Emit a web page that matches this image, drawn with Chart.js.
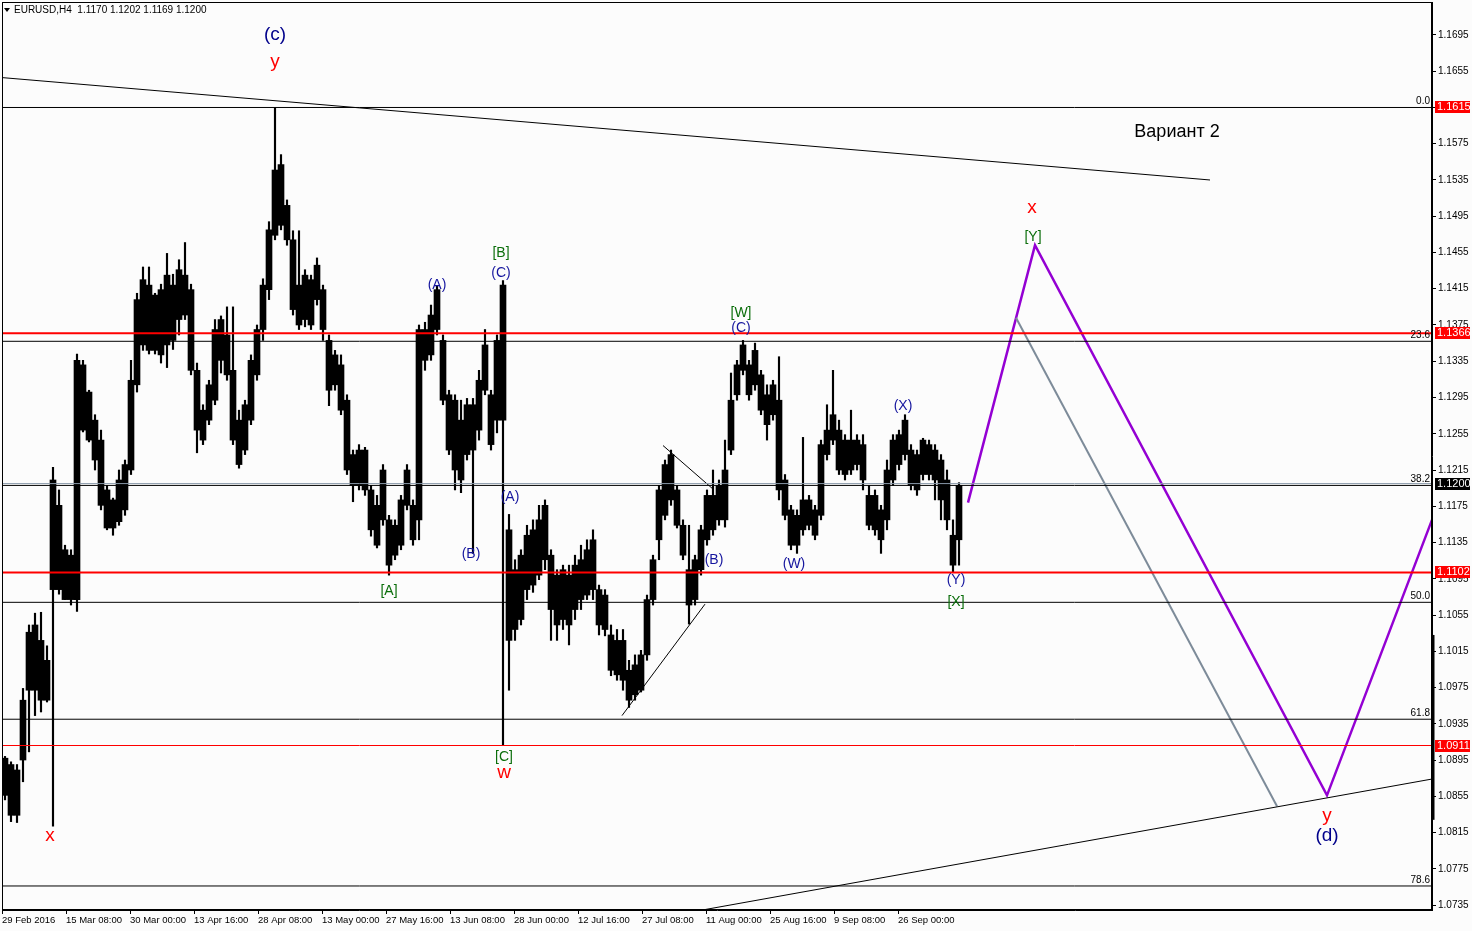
<!DOCTYPE html>
<html>
<head>
<meta charset="utf-8">
<script src="https://cdn.jsdelivr.net/npm/chart.js@4.4.0/dist/chart.umd.min.js"></script>
<style>
body { margin: 0; background: #fcfcfc; }
canvas { display: block; }
</style>
</head>
<body>
<canvas id="chart" width="1472" height="931"></canvas>
<script>
// EURUSD H4, bars grouped 6 at a time (range of the group + extreme wicks)
const barsPerGroup = 6;
const bodyHigh = [
  1.0897, 1.0890, 1.0884, 1.0961, 1.1036, 1.1044, 1.1027, 1.1005, 1.1204, 1.1176,
  1.1127, 1.1121, 1.1336, 1.1331, 1.1301, 1.1270, 1.1248, 1.1193, 1.1182, 1.1204,
  1.1221, 1.1314, 1.1403, 1.1425, 1.1419, 1.1408, 1.1414, 1.1430, 1.1419, 1.1436,
  1.1430, 1.1414, 1.1325, 1.1281, 1.1309, 1.1370, 1.1381, 1.1364, 1.1325, 1.1270,
  1.1287, 1.1336, 1.1370, 1.1419, 1.1480, 1.1546, 1.1552, 1.1507, 1.1469, 1.1419,
  1.1430, 1.1425, 1.1441, 1.1414, 1.1358, 1.1342, 1.1331, 1.1292, 1.1232, 1.1237,
  1.1237, 1.1193, 1.1176, 1.1215, 1.1160, 1.1154, 1.1182, 1.1215, 1.1176, 1.1370,
  1.1370, 1.1386, 1.1414, 1.1358, 1.1298, 1.1292, 1.1270, 1.1287, 1.1287, 1.1314,
  1.1353, 1.1298, 1.1358, 1.1419, 1.1149, 1.1105, 1.1121, 1.1143, 1.1149, 1.1160,
  1.1176, 1.1121, 1.1099, 1.1105, 1.1099, 1.1110, 1.1116, 1.1127, 1.1138, 1.1083,
  1.1077, 1.1033, 1.1027, 1.1027, 1.0994, 1.1000, 1.1011, 1.1072, 1.1116, 1.1193,
  1.1221, 1.1232, 1.1193, 1.1154, 1.1105, 1.1116, 1.1149, 1.1187, 1.1187, 1.1198,
  1.1215, 1.1292, 1.1331, 1.1353, 1.1331, 1.1347, 1.1320, 1.1298, 1.1309, 1.1292,
  1.1204, 1.1171, 1.1165, 1.1182, 1.1182, 1.1171, 1.1243, 1.1259, 1.1276, 1.1259,
  1.1248, 1.1248, 1.1248, 1.1243, 1.1187, 1.1187, 1.1171, 1.1215, 1.1248, 1.1254,
  1.1270, 1.1237, 1.1232, 1.1248, 1.1243, 1.1237, 1.1226, 1.1204, 1.1143, 1.1198
];
const bodyLow = [
  1.0856, 1.0834, 1.0834, 1.0895, 1.0972, 1.0972, 1.0961, 1.0961, 1.1083, 1.1083,
  1.1072, 1.1072, 1.1072, 1.1259, 1.1248, 1.1226, 1.1176, 1.1151, 1.1151, 1.1158,
  1.1171, 1.1215, 1.1309, 1.1353, 1.1347, 1.1347, 1.1342, 1.1353, 1.1358, 1.1381,
  1.1386, 1.1325, 1.1259, 1.1248, 1.1270, 1.1292, 1.1336, 1.1320, 1.1248, 1.1221,
  1.1237, 1.1270, 1.1320, 1.1370, 1.1414, 1.1474, 1.1485, 1.1469, 1.1392, 1.1375,
  1.1381, 1.1375, 1.1403, 1.1370, 1.1303, 1.1309, 1.1281, 1.1215, 1.1198, 1.1198,
  1.1193, 1.1149, 1.1132, 1.1160, 1.1110, 1.1121, 1.1132, 1.1176, 1.1138, 1.1160,
  1.1336, 1.1342, 1.1370, 1.1292, 1.1237, 1.1215, 1.1204, 1.1232, 1.1237, 1.1259,
  1.1303, 1.1243, 1.1270, 1.1270, 1.1027, 1.1039, 1.1050, 1.1083, 1.1088, 1.1099,
  1.1116, 1.1061, 1.1044, 1.1050, 1.1044, 1.1061, 1.1072, 1.1077, 1.1083, 1.1044,
  1.1039, 1.0994, 1.0989, 1.0983, 1.0961, 1.0967, 1.0972, 1.1011, 1.1072, 1.1138,
  1.1165, 1.1182, 1.1154, 1.1121, 1.1066, 1.1072, 1.1105, 1.1138, 1.1149, 1.1160,
  1.1160, 1.1237, 1.1298, 1.1325, 1.1298, 1.1309, 1.1281, 1.1265, 1.1276, 1.1193,
  1.1165, 1.1132, 1.1132, 1.1149, 1.1154, 1.1143, 1.1165, 1.1232, 1.1248, 1.1215,
  1.1210, 1.1215, 1.1221, 1.1204, 1.1154, 1.1149, 1.1138, 1.1160, 1.1204, 1.1221,
  1.1232, 1.1198, 1.1193, 1.1210, 1.1210, 1.1204, 1.1182, 1.1160, 1.1110, 1.1138
];
const wickHigh = [
  1.0899, 1.0893, 1.0890, 1.0974, 1.1044, 1.1057, 1.1058, 1.1021, 1.1218, 1.1193,
  1.1132, 1.1127, 1.1343, 1.1336, 1.1303, 1.1276, 1.1259, 1.1198, 1.1184, 1.1215,
  1.1226, 1.1336, 1.1410, 1.1439, 1.1439, 1.1410, 1.1420, 1.1454, 1.1431, 1.1447,
  1.1466, 1.1420, 1.1333, 1.1287, 1.1314, 1.1381, 1.1385, 1.1395, 1.1395, 1.1281,
  1.1292, 1.1342, 1.1375, 1.1426, 1.1489, 1.1615, 1.1563, 1.1513, 1.1479, 1.1479,
  1.1436, 1.1430, 1.1449, 1.1419, 1.1364, 1.1347, 1.1342, 1.1298, 1.1237, 1.1243,
  1.1240, 1.1198, 1.1187, 1.1221, 1.1165, 1.1160, 1.1187, 1.1221, 1.1182, 1.1375,
  1.1378, 1.1397, 1.1418, 1.1364, 1.1303, 1.1298, 1.1292, 1.1294, 1.1294, 1.1325,
  1.1370, 1.1303, 1.1364, 1.1424, 1.1166, 1.1116, 1.1127, 1.1154, 1.1160, 1.1176,
  1.1182, 1.1127, 1.1105, 1.1110, 1.1110, 1.1121, 1.1132, 1.1138, 1.1149, 1.1088,
  1.1083, 1.1044, 1.1039, 1.1039, 1.1005, 1.1011, 1.1016, 1.1077, 1.1121, 1.1198,
  1.1226, 1.1237, 1.1198, 1.1160, 1.1154, 1.1121, 1.1154, 1.1193, 1.1215, 1.1204,
  1.1248, 1.1322, 1.1336, 1.1358, 1.1336, 1.1355, 1.1325, 1.1309, 1.1314, 1.1340,
  1.1210, 1.1176, 1.1171, 1.1251, 1.1187, 1.1176, 1.1248, 1.1287, 1.1325, 1.1270,
  1.1254, 1.1281, 1.1254, 1.1254, 1.1198, 1.1193, 1.1176, 1.1226, 1.1254, 1.1259,
  1.1276, 1.1243, 1.1237, 1.1250, 1.1248, 1.1243, 1.1232, 1.1215, 1.1160, 1.1201
];
const wickLow = [
  1.0851, 1.0827, 1.0826, 1.0871, 1.0904, 1.0944, 1.0948, 1.0959, 1.0822, 1.1078,
  1.1072, 1.1066, 1.1059, 1.1257, 1.1246, 1.1215, 1.1171, 1.1149, 1.1143, 1.1154,
  1.1165, 1.1210, 1.1301, 1.1347, 1.1343, 1.1343, 1.1333, 1.1328, 1.1348, 1.1364,
  1.1381, 1.1320, 1.1234, 1.1243, 1.1265, 1.1287, 1.1322, 1.1314, 1.1243, 1.1217,
  1.1232, 1.1265, 1.1314, 1.1358, 1.1403, 1.1469, 1.1480, 1.1463, 1.1386, 1.1370,
  1.1373, 1.1370, 1.1397, 1.1358, 1.1286, 1.1303, 1.1276, 1.1210, 1.1180, 1.1193,
  1.1187, 1.1142, 1.1129, 1.1154, 1.1099, 1.1116, 1.1127, 1.1171, 1.1132, 1.1138,
  1.1325, 1.1336, 1.1364, 1.1287, 1.1232, 1.1193, 1.1190, 1.1226, 1.1123, 1.1248,
  1.1298, 1.1237, 1.1256, 1.0912, 1.0972, 1.1027, 1.1044, 1.1072, 1.1080, 1.1094,
  1.1105, 1.1027, 1.1027, 1.1039, 1.1022, 1.1050, 1.1061, 1.1072, 1.1072, 1.1033,
  1.1032, 1.0988, 1.0983, 1.0972, 1.0953, 1.0961, 1.0970, 1.1005, 1.1066, 1.1116,
  1.1160, 1.1176, 1.1151, 1.1116, 1.1045, 1.1066, 1.1099, 1.1132, 1.1143, 1.1154,
  1.1152, 1.1232, 1.1292, 1.1320, 1.1292, 1.1303, 1.1276, 1.1248, 1.1270, 1.1182,
  1.1160, 1.1127, 1.1123, 1.1143, 1.1149, 1.1138, 1.1160, 1.1226, 1.1243, 1.1210,
  1.1204, 1.1210, 1.1215, 1.1193, 1.1149, 1.1143, 1.1123, 1.1149, 1.1198, 1.1215,
  1.1226, 1.1193, 1.1187, 1.1204, 1.1204, 1.1182, 1.1160, 1.1149, 1.1102, 1.1110
];

// axes
const barCount = 1430;
const timeLabels = ['29 Feb 2016', '15 Mar 08:00', '30 Mar 00:00', '13 Apr 16:00', '28 Apr 08:00',
  '13 May 00:00', '27 May 16:00', '13 Jun 08:00', '28 Jun 00:00', '12 Jul 16:00', '27 Jul 08:00',
  '11 Aug 00:00', '25 Aug 16:00', '9 Sep 08:00', '26 Sep 00:00'];
const timeStep = 64;
const priceTicks = [1.0735, 1.0775, 1.0815, 1.0855, 1.0895, 1.0935, 1.0975, 1.1015, 1.1055,
  1.1095, 1.1135, 1.1175, 1.1215, 1.1255, 1.1295, 1.1335, 1.1375, 1.1415, 1.1455, 1.1495,
  1.1535, 1.1575, 1.1615, 1.1655, 1.1695];
const priceMin = 1.07295, priceMax = 1.17314;

// levels
const fiboNames = ['0.0', '23.6', '38.2', '50.0', '61.8', '78.6'];
const fiboPrices = [1.1615, 1.1357, 1.1198, 1.1069, 1.0940, 1.0756];
const redThick = [1.1366, 1.1102];
const redThin = [1.0911];
const bidPrice = 1.1200;
const tagPrices = [1.1615, 1.1366, 1.1200, 1.1102, 1.0911];
const tagColors = ['#ff0000', '#ff0000', '#000000', '#ff0000', '#ff0000'];

// drawn lines: [bar, price]
const trendUpper = [[0, 1.1648], [1208, 1.1535]];
const trendLower = [[703, 1.0730], [1430, 1.0874]];
const wedgeUpper = [[661, 1.1242], [712, 1.1193]];
const wedgeLower = [[620, 1.0944], [703, 1.1067]];
const forecastMain = [[966, 1.1179], [1033, 1.1463], [1325, 1.0856], [1430, 1.1160]];
const forecastAlt = [[1014, 1.1383], [1275, 1.0844]];

// wave labels: text, bar, price, kind
const waveLabels = [
  ['(c)', 273, 1.1695, 'navy'], ['y', 273, 1.1665, 'red'], ['x', 48, 1.0811, 'red'],
  ['[B]', 499, 1.1454, 'green'], ['(C)', 499, 1.1432, 'blue'], ['(A)', 435, 1.1419, 'blue'],
  ['[W]', 739, 1.1388, 'green'], ['(C)', 739, 1.1372, 'blue'], ['(X)', 901, 1.1285, 'blue'],
  ['(A)', 508, 1.1185, 'blue'], ['(B)', 469, 1.1122, 'blue'], ['(B)', 712, 1.1116, 'blue'],
  ['(W)', 792, 1.1111, 'blue'], ['(Y)', 954, 1.1093, 'blue'], ['[X]', 954, 1.1069, 'green'],
  ['[A]', 387, 1.1081, 'green'], ['[C]', 502, 1.0898, 'green'], ['w', 502, 1.0881, 'red'],
  ['x', 1030, 1.1504, 'red'], ['[Y]', 1031, 1.1472, 'green'],
  ['y', 1325, 1.0834, 'red'], ['(d)', 1325, 1.0811, 'navy'],
  ['Вариант 2', 1175, 1.1588, 'black']
];
const labelStyles = {
  blue: { font: '14px "Liberation Sans"', color: '#15159e' },
  green: { font: '14px "Liberation Sans"', color: '#0b6e0b' },
  red: { font: '19px "Liberation Sans"', color: '#ff0000' },
  navy: { font: '19px "Liberation Sans"', color: '#00008b' },
  black: { font: '18px "Liberation Sans"', color: '#000000' }
};
const headerText = 'EURUSD,H4  1.1170 1.1202 1.1169 1.1200';
const scrollBar = [1.1033, 1.0829];

const groupX = bodyHigh.map((_, i) => i * barsPerGroup + barsPerGroup / 2);
const toPoints = arr => arr.map(p => ({ x: p[0], y: p[1] }));
const hLine = p => [{ x: 0, y: p }, { x: barCount, y: p }];

function lineSet(data, color, width) {
    return { type: 'line', data: data, borderColor: color, borderWidth: width,
        pointRadius: 0, tension: 0, fill: false, order: 1 };
}

const datasets = [
    { type: 'bar', data: groupX.map((x, i) => ({ x: x, y: [bodyLow[i], bodyHigh[i]] })),
      backgroundColor: '#000', barThickness: 6, grouped: false, order: 10 },
    { type: 'bar', data: groupX.map((x, i) => ({ x: x, y: [wickLow[i], wickHigh[i]] })),
      backgroundColor: '#000', barThickness: 1.5, grouped: false, order: 9 }
];
fiboPrices.forEach(p => datasets.push(lineSet(hLine(p), '#000', 1)));
datasets.push(lineSet(hLine(bidPrice), '#8a9aaa', 1));
redThick.forEach(p => datasets.push(lineSet(hLine(p), '#ff0000', 2)));
redThin.forEach(p => datasets.push(lineSet(hLine(p), '#ff0000', 1)));
[trendUpper, trendLower, wedgeUpper, wedgeLower].forEach(l => datasets.push(lineSet(toPoints(l), '#000', 1)));
datasets.push(lineSet(toPoints(forecastAlt), '#7d8b99', 2));
datasets.push(lineSet(toPoints(forecastMain), '#9400d3', 2.5));

const overlay = {
    id: 'overlay',
    beforeDraw(chart) {
        const ctx = chart.ctx;
        ctx.save();
        ctx.fillStyle = '#fcfcfc';
        ctx.fillRect(0, 0, chart.width, chart.height);
        ctx.restore();
    },
    afterDatasetsDraw(chart) {
        const { ctx, chartArea: a, scales: { x, y } } = chart;
        ctx.save();
        ctx.font = '10px "Liberation Sans"';
        ctx.fillStyle = '#000';
        ctx.textAlign = 'right';
        ctx.textBaseline = 'bottom';
        fiboPrices.forEach((p, i) => ctx.fillText(fiboNames[i], a.right - 2, y.getPixelForValue(p) - 1));

        ctx.textAlign = 'center';
        ctx.textBaseline = 'middle';
        waveLabels.forEach(l => {
            const st = labelStyles[l[3]];
            ctx.font = st.font;
            ctx.fillStyle = st.color;
            ctx.fillText(l[0], x.getPixelForValue(l[1]), y.getPixelForValue(l[2]));
        });

        // header
        ctx.fillStyle = '#000';
        ctx.beginPath();
        ctx.moveTo(a.left + 2, a.top + 6);
        ctx.lineTo(a.left + 8, a.top + 6);
        ctx.lineTo(a.left + 5, a.top + 10);
        ctx.closePath();
        ctx.fill();
        ctx.font = '10px "Liberation Sans"';
        ctx.textAlign = 'left';
        ctx.fillText(headerText, a.left + 12, a.top + 8);
        ctx.restore();
    },
    afterDraw(chart) {
        const { ctx, chartArea: a, scales: { y } } = chart;
        ctx.save();
        ctx.strokeStyle = '#000';
        ctx.lineWidth = 1;
        ctx.strokeRect(a.left + 0.5, a.top + 0.5, a.width - 1, a.height - 1);

        ctx.lineWidth = 3;
        ctx.beginPath();
        ctx.moveTo(a.right + 1, y.getPixelForValue(scrollBar[0]));
        ctx.lineTo(a.right + 1, y.getPixelForValue(scrollBar[1]));
        ctx.stroke();

        ctx.font = '11px "Liberation Sans"';
        ctx.textAlign = 'left';
        ctx.textBaseline = 'middle';
        tagPrices.forEach((p, i) => {
            const py = Math.round(y.getPixelForValue(p));
            ctx.fillStyle = tagColors[i];
            ctx.fillRect(a.right + 3, py - 6, 35, 12);
            ctx.fillStyle = '#fff';
            ctx.fillText(p.toFixed(4), a.right + 5, py);
        });
        ctx.restore();
    }
};

new Chart(document.getElementById('chart'), {
    type: 'bar',
    data: { datasets: datasets },
    options: {
        responsive: false,
        animation: false,
        events: [],
        layout: { padding: { left: 2, top: 2, right: 0, bottom: 0 } },
        plugins: { legend: { display: false }, tooltip: { enabled: false } },
        scales: {
            x: {
                type: 'linear',
                min: 0,
                max: barCount,
                offset: false,
                afterBuildTicks: s => { s.ticks = timeLabels.map((_, i) => ({ value: i * timeStep })); },
                afterFit: s => { s.height = 21; s.paddingLeft = 0; s.paddingRight = 0; },
                ticks: {
                    autoSkip: false,
                    maxRotation: 0,
                    align: 'start',
                    padding: 1,
                    color: '#000',
                    font: { family: 'Liberation Sans', size: 9.5 },
                    callback: (v, i) => timeLabels[i]
                },
                grid: { drawOnChartArea: false, offset: false, color: '#000', tickLength: 4 },
                border: { color: '#000' }
            },
            y: {
                type: 'linear',
                position: 'right',
                min: priceMin,
                max: priceMax,
                afterBuildTicks: s => { s.ticks = priceTicks.map(v => ({ value: v })); },
                afterFit: s => { s.width = 40; s.paddingTop = 0; s.paddingBottom = 0; },
                ticks: {
                    padding: 2,
                    color: '#000',
                    font: { family: 'Liberation Sans', size: 10 },
                    callback: v => v.toFixed(4)
                },
                grid: { drawOnChartArea: false, color: '#000', tickLength: 4 },
                border: { color: '#000' }
            }
        }
    },
    plugins: [overlay]
});
</script>
</body>
</html>
